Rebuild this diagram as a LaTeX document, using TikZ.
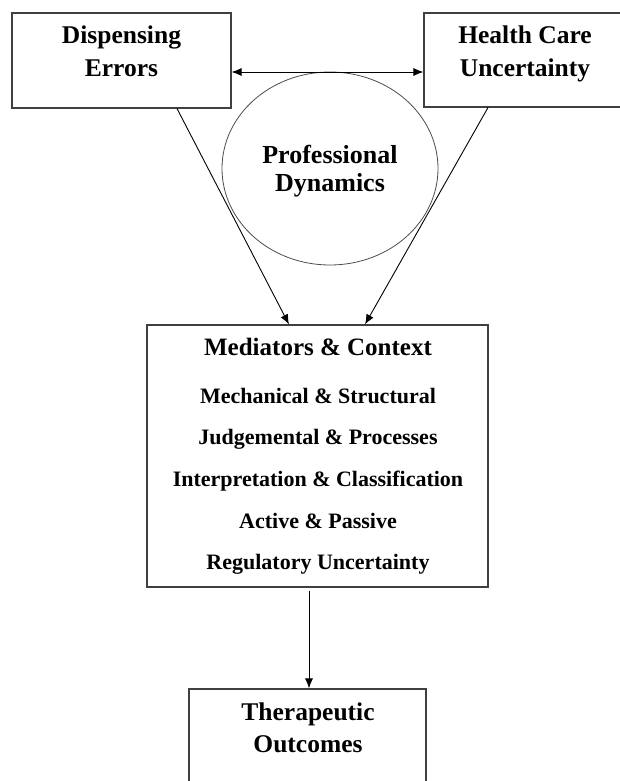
\documentclass[tikz,border=0pt]{standalone}
\usepackage{fontspec}
\setmainfont{Liberation Serif}
\usetikzlibrary{shapes.geometric,arrows.meta,positioning}

\begin{document}
\begin{tikzpicture}[x=1pt,y=1pt]%
  \tikzstyle{boxn}=[rectangle,draw=black!75,line width=1.1pt,inner sep=0]
  \tikzstyle{ovaln}=[ellipse,draw=black!70,line width=0.8pt,inner sep=0,minimum width=216pt,minimum height=193pt]
  \tikzstyle{headn}=[align=center,inner sep=0,anchor=base,font=\fontsize{25.5}{33}\selectfont\bfseries]
  \tikzstyle{itemn}=[inner sep=0,anchor=base,font=\fontsize{22}{26}\selectfont\bfseries]
  \tikzstyle{link}=[line width=0.9pt,-{Latex[length=10pt,width=8pt]}]
  \useasboundingbox (0,0) rectangle (620,-781);
  \clip (0,0) rectangle (620,-781);
  % boxes and circle
  \node(errors)[boxn,minimum width=219pt,minimum height=95pt] at (121.5,-60.5) {};
  \node(uncert)[boxn,minimum width=202pt,minimum height=94pt] at (525,-60) {};
  \node(dyn)[ovaln] at (330,-168.5) {};
  \node(medi)[boxn,minimum width=341pt,minimum height=262pt] at (317.5,-456) {};
  \node(outc)[boxn,minimum width=237pt,minimum height=95pt] at (307.5,-736.5) {};
  % texts (base = last line)
  \node(errorsT)[headn] at (121.5,-76.4) {Dispensing\\Errors};
  \node(uncertT)[headn] at (525,-76.4) {Health Care\\Uncertainty};
  \node(dynT)[headn,font=\fontsize{26}{28}\selectfont\bfseries] at (330,-191.6) {Professional\\Dynamics};
  \node(outcT)[headn,font=\fontsize{25.5}{32}\selectfont\bfseries] at (308,-752.4) {Therapeutic\\Outcomes};
  \node(mediT)[itemn,font=\fontsize{25}{30}\selectfont\bfseries] at (318,-355) {Mediators \& Context};
  \node(medi1)[itemn] at (318,-403) {Mechanical \& Structural};
  \node(medi2)[itemn] at (318,-444) {Judgemental \& Processes};
  \node(medi3)[itemn] at (318,-486) {Interpretation \& Classification};
  \node(medi4)[itemn] at (318,-528) {Active \& Passive};
  \node(medi5)[itemn] at (318,-569) {Regulatory Uncertainty};
  % connectors
  \draw[link,{Latex[length=10pt,width=8pt]}-{Latex[length=10pt,width=8pt]}]
    ([yshift=-11.5pt]errors.east) -- ([yshift=-11.5pt]errors.east -| uncert.west);
  \draw[link] ([xshift=55.5pt]errors.south) -- ([xshift=-28.5pt]medi.north);
  \draw[link] ([xshift=-37pt]uncert.south) -- ([xshift=47.5pt]medi.north);
  \draw[link] ([xshift=-8.5pt,yshift=-3pt]medi.south) -- ([xshift=-8.5pt]medi.south |- outc.north);
\end{tikzpicture}
\end{document}
